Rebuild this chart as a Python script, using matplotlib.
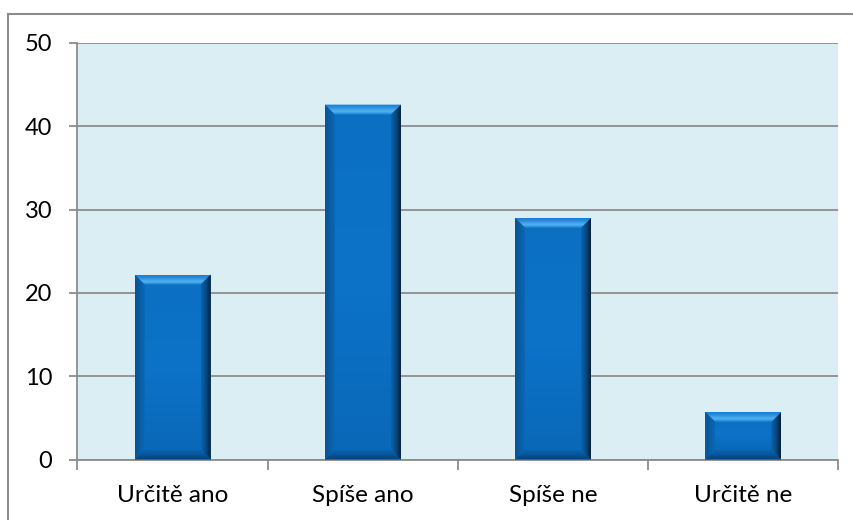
import matplotlib
matplotlib.use("Agg")
import matplotlib.pyplot as plt
import numpy as np
from matplotlib.patches import Polygon
from matplotlib.colors import LinearSegmentedColormap
from matplotlib.lines import Line2D

categories = ["Určitě ano", "Spíše ano", "Spíše ne", "Určitě ne"]
values = [22.2, 42.6, 29.0, 5.7]
yticks = [0, 10, 20, 30, 40, 50]

W, H, DPI = 854, 520, 100
fig = plt.figure(figsize=(W / DPI, H / DPI), dpi=DPI)
plt.rcParams['font.family'] = ['Lato', 'DejaVu Sans']

# outer frame
fig.add_artist(Line2D([8 / W, 1.0], [1 - 13.5 / H, 1 - 13.5 / H], transform=fig.transFigure,
                      color="#8c8c8c", lw=1.5))
fig.add_artist(Line2D([8 / W, 8 / W], [0, 1 - 13.5 / H], transform=fig.transFigure,
                      color="#8c8c8c", lw=1.5))

left, right, top, bottom = 77.5, 838.5, 43, 459.5
ax = fig.add_axes([left / W, 1 - bottom / H, (right - left) / W, (bottom - top) / H])
ax.set_facecolor("#DBEEF4")
ax.set_xlim(-0.5, len(categories) - 0.5)
ax.set_ylim(0, 50)
ax.set_yticks(yticks)
ax.yaxis.grid(True, color="#8c8c8c", lw=1.3)
ax.set_axisbelow(True)
for s in ["top", "right"]:
    ax.spines[s].set_visible(False)
ax.spines["left"].set_color("#8c8c8c")
ax.spines["bottom"].set_color("#8c8c8c")
ax.spines["left"].set_linewidth(1.3)
ax.spines["bottom"].set_linewidth(1.3)

x = np.arange(len(categories))
bars = ax.bar(x, values, width=0.4, color="#0B6FC2", zorder=3)

# category tick marks at boundaries
ax.set_xticks(np.arange(len(categories) + 1) - 0.5, minor=False)
ax.set_xticklabels([])
ax.set_xticks(x, minor=True)
ax.set_xticklabels(categories, minor=True, fontsize=17.5)
ax.tick_params(axis="x", which="minor", length=0, pad=18)
ax.tick_params(axis="x", which="major", length=7, color="#8c8c8c", width=1.3)
ax.tick_params(axis="y", length=6, color="#8c8c8c", width=1.3, labelsize=17, pad=12)

# bevel decoration
px_x = (right - left) / (len(categories))  # px per x data unit
px_y = (bottom - top) / 50.0
bev = 10
dx = bev / px_x
dy = bev / px_y


def grad_fill(poly, colors, vertical, extent):
    cmap = LinearSegmentedColormap.from_list("g", colors)
    grad = np.linspace(0, 1, 256)
    if vertical:
        img = grad[:, None]
    else:
        img = grad[None, :]
    patch = Polygon(poly, closed=True, facecolor="none", edgecolor="none", zorder=4)
    ax.add_patch(patch)
    im = ax.imshow(img, cmap=cmap, extent=extent, origin="lower", aspect="auto",
                   interpolation="bilinear", zorder=4)
    im.set_clip_path(patch)


for b in bars:
    x0 = b.get_x()
    x1 = x0 + b.get_width()
    y0 = b.get_y()
    y1 = y0 + b.get_height()
    ddy = min(dy, (y1 - y0) / 2.5)
    face = [(x0 + dx, y0 + ddy), (x1 - dx, y0 + ddy), (x1 - dx, y1 - ddy), (x0 + dx, y1 - ddy)]
    grad_fill(face, ["#0A68B8", "#0C73C8", "#0B70C2"], True, (x0, x1, y0 + ddy, y1 - ddy))
    bot = [(x0, y0), (x1, y0), (x1 - dx, y0 + ddy), (x0 + dx, y0 + ddy)]
    grad_fill(bot, ["#04427A", "#0758A0", "#0A64B0"], True, (x0, x1, y0, y0 + ddy))
    topp = [(x0, y1), (x1, y1), (x1 - dx, y1 - ddy), (x0 + dx, y1 - ddy)]
    grad_fill(topp, ["#1478CA", "#52B4F4", "#2E92DE", "#1A7ACC"], True, (x0, x1, y1 - ddy, y1))
    lft = [(x0, y0), (x0 + dx, y0 + ddy), (x0 + dx, y1 - ddy), (x0, y1)]
    grad_fill(lft, ["#065494", "#0A68B4"], False, (x0, x0 + dx, y0, y1))
    rgt = [(x1, y0), (x1 - dx, y0 + ddy), (x1 - dx, y1 - ddy), (x1, y1)]
    grad_fill(rgt, ["#0A64AE", "#074A84", "#0A1E33"], False, (x1 - dx, x1, y0, y1))

ax.set_xlim(-0.5, len(categories) - 0.5)
ax.set_ylim(0, 50)

fig.savefig("out.png", dpi=DPI, facecolor="white")
